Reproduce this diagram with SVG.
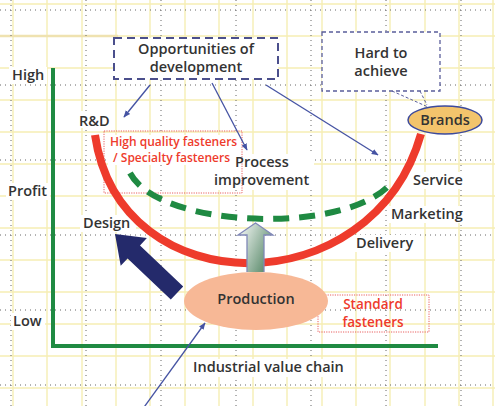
<svg xmlns="http://www.w3.org/2000/svg" width="495" height="406" viewBox="0 0 495 406">
  <style>
    .grid-y { stroke: #f6eeb4; stroke-width: 1.4; fill: none; }
    .grid-d { stroke: #666; stroke-width: 1; stroke-dasharray: 1 4; fill: none; }
    .lbl { font-family: "Open Sans", "Liberation Sans", sans-serif; font-weight: 600; font-size: 14.5px; fill: #333; }
    .red { font-family: "Open Sans", "Liberation Sans", sans-serif; font-weight: 600; fill: #ee3b2c; }
    .bg { fill: #fff; }
    .thin { stroke: #4553a3; stroke-width: 1.3; fill: none; marker-end: url(#tip); }
  </style>
  <defs>
    <marker id="tip" viewBox="0 0 10 10" refX="9" refY="5" markerWidth="7" markerHeight="7" orient="auto" markerUnits="userSpaceOnUse">
      <path d="M0,1 L10,5 L0,9 Z" fill="#4553a3"/>
    </marker>
    <linearGradient id="upfill" x1="0" y1="0" x2="1" y2="0.6">
      <stop offset="0" stop-color="#ffffff"/>
      <stop offset="1" stop-color="#5e8d6e"/>
    </linearGradient>
  </defs>

  <!-- background sheet with squared grid -->
  <rect width="495" height="406" fill="#fff"/>
  <g id="grid">
    <path class="grid-y" d="M13,0V406 M47,0V406 M82,0V406 M116,0V406 M150,0V406 M185,0V406 M219,0V406 M253,0V406 M287,0V406 M322,0V406 M356,0V406 M390,0V406 M425,0V406 M459,0V406 M493,0V406"/>
    <path class="grid-y" d="M0,4H495 M0,36H495 M0,68H495 M0,100H495 M0,132H495 M0,164H495 M0,196H495 M0,228H495 M0,260H495 M0,292H495 M0,324H495 M0,356H495 M0,388H495"/>
    <path d="M0,36H118" stroke="#efe2b0" stroke-width="2.5"/>
    <path class="grid-d" d="M11,0V406 M86,0V406 M161,0V406 M236,0V406 M311,0V406 M386,0V406 M461,0V406"/>
    <path class="grid-d" d="M0,10H495 M0,85H495 M0,160H495 M0,235H495 M0,310H495 M0,385H495"/>
  </g>

  <!-- label backgrounds -->
  <g id="label-backs">
    <rect class="bg" x="9" y="67" width="38" height="17"/>
    <rect class="bg" x="6" y="183" width="44" height="17"/>
    <rect class="bg" x="11" y="313" width="34" height="17"/>
    <rect class="bg" x="76" y="111" width="36" height="17"/>
    <rect class="bg" x="80" y="215" width="56" height="17"/>
    <rect class="bg" x="212" y="154" width="102" height="36"/>
    <rect class="bg" x="410" y="172" width="62" height="17"/>
    <rect class="bg" x="389" y="206" width="82" height="17"/>
    <rect class="bg" x="353" y="235" width="66" height="17"/>
    <rect class="bg" x="190" y="359" width="162" height="18"/>
  </g>

  <!-- axes -->
  <g id="axes">
    <path d="M53,68V346H438" fill="none" stroke="#1f8a42" stroke-width="4"/>
    <text class="lbl" x="12" y="80">High</text>
    <text class="lbl" x="8" y="196">Profit</text>
    <text class="lbl" x="13" y="326">Low</text>
    <text class="lbl" x="193" y="372">Industrial value chain</text>
  </g>

  <!-- fastener tier boxes -->
  <g id="specialty">
    <rect x="104" y="131" width="138" height="62" fill="none" stroke="#e86060" stroke-width="1" stroke-dasharray="1.2 1.2"/>
    <rect class="bg" x="108" y="135" width="130" height="30"/>
    <text class="red" font-size="12" x="110" y="146">High quality fasteners</text>
    <text class="red" font-size="12" x="113" y="162">/ Specialty fasteners</text>
  </g>
  <g id="standard">
    <rect x="318" y="295" width="111" height="37" fill="none" stroke="#e86060" stroke-width="1" stroke-dasharray="1.2 1.2"/>
    <text class="red" font-size="13.5" x="373" y="308.5" text-anchor="middle">Standard</text>
    <text class="red" font-size="13.5" x="373" y="326.5" text-anchor="middle">fasteners</text>
  </g>

  <!-- value chain curves -->
  <g id="curves">
    <path id="smile" d="M95,135 C120,306 372,306 421,134" fill="none" stroke="#ee3b2c" stroke-width="8"/>
    <path id="upgrade" d="M130,173 C160,230 350,235 392,182" fill="none" stroke="#1f8a42" stroke-width="6" stroke-dasharray="16 10"/>
  </g>

  <g id="production">
    <ellipse cx="256" cy="301" rx="72" ry="29" fill="#f7b896"/>
    <text class="lbl" x="256" y="304" text-anchor="middle">Production</text>
  </g>

  <g id="upgrade-arrow">
    <path d="M247,272 V235 H238 L255.5,223 L273,235 H264 V272" fill="url(#upfill)" stroke="#8088b8" stroke-width="1.3"/>
  </g>

  <g id="design-arrow">
    <path d="M183.2,286.5 L140,245.4 L146.9,238.1 L115,234 L120.7,265.7 L127.6,258.4 L170.8,299.5 Z" fill="#242a6b"/>
  </g>

  <g id="brands">
    <ellipse cx="445" cy="120" rx="37" ry="14" fill="#f3c46c" stroke="#3c4a9c" stroke-width="1.5"/>
    <text class="lbl" x="445" y="125" text-anchor="middle">Brands</text>
  </g>

  <g id="opportunities">
    <rect x="114" y="38" width="164" height="41" fill="#fff" stroke="#4b4f8c" stroke-width="2" stroke-dasharray="8 5"/>
    <text class="lbl" x="196" y="54" text-anchor="middle">Opportunities of</text>
    <text class="lbl" x="196" y="72" text-anchor="middle">development</text>
  </g>

  <g id="hard">
    <path d="M392,91 L428,107 M420,91 L427,105" stroke="#5a5e9a" stroke-width="1" stroke-dasharray="3 2" fill="none"/>
    <rect x="322" y="32" width="118" height="59" fill="#fff" stroke="#5a5e9a" stroke-width="1.3" stroke-dasharray="4 3"/>
    <text class="lbl" x="381" y="58" text-anchor="middle">Hard to</text>
    <text class="lbl" x="381" y="76" text-anchor="middle">achieve</text>
  </g>

  <!-- stage labels -->
  <g id="stages">
    <text class="lbl" x="79" y="126">R&amp;D</text>
    <text class="lbl" x="83" y="228">Design</text>
    <text class="lbl" x="235" y="167">Process</text>
    <text class="lbl" x="214" y="185">improvement</text>
    <text class="lbl" x="413" y="185">Service</text>
    <text class="lbl" x="391" y="219">Marketing</text>
    <text class="lbl" x="356" y="248">Delivery</text>
  </g>

  <g id="connectors">
    <path class="thin" d="M150,85 L124,117"/>
    <path class="thin" d="M212,83 L247,150"/>
    <path class="thin" d="M266,85 L378,155"/>
    <path class="thin" d="M142,410 L205,323"/>
  </g>
</svg>
